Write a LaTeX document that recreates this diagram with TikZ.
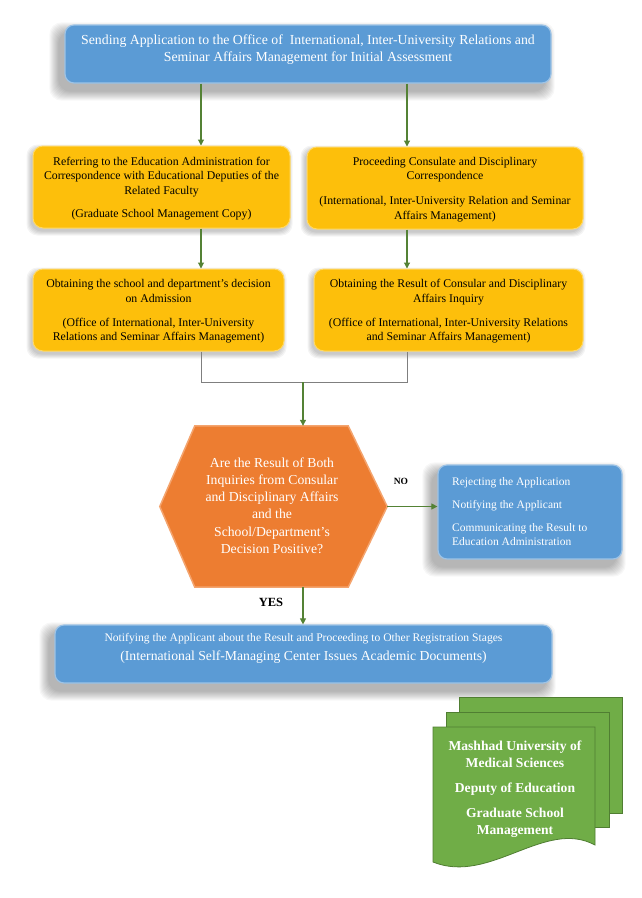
\documentclass[tikz,border=0pt]{standalone}
\usepackage{fontspec}
\setmainfont{Liberation Serif}
\usetikzlibrary{arrows.meta,backgrounds}
\definecolor{cblue}{HTML}{5B9BD5}
\definecolor{cblueL}{HTML}{9DC3E6}
\definecolor{cyel}{HTML}{FDBF0B}
\definecolor{cyelL}{HTML}{FFD966}
\definecolor{corange}{HTML}{ED7D31}
\definecolor{corangeL}{HTML}{F4A46E}
\definecolor{cgreen}{HTML}{70AD47}
\definecolor{cgreenD}{HTML}{507E32}
\definecolor{carrow}{HTML}{548235}
\definecolor{cline}{HTML}{7F7F7F}
\tikzset{
  bbox/.style={rounded corners=9pt, fill=cblue, draw=cblueL, line width=1.2pt, inner sep=0},
  ybox/.style={rounded corners=10pt, fill=cyel, draw=cyelL, line width=1pt, inner sep=0},
  ytext/.style={align=center, inner sep=0, font=\fontsize{11.8}{14.3}\selectfont, text=black},
  wtext/.style={align=center, inner sep=0, text=white},
  arr/.style={draw=carrow, line width=1.1pt, -{Triangle[length=6pt,width=6pt]}},
  joinline/.style={draw=cline, line width=0.9pt},
  page/.style={fill=cgreen, draw=cgreenD, line width=0.8pt},
  shadowfill/.style={fill=black, opacity=0.032, rounded corners=12pt},
  yshadowfill/.style={fill=black, opacity=0.045, rounded corners=11pt},
}
% soft shadow under a named node: offset left and down, grown step by step
\newcommand{\mkshadow}[1]{%
  \foreach \i in {0,...,9}{%
    \path[shadowfill] ([shift={(-6-\i,7-\i)}]#1.north west) rectangle ([shift={(-6+\i,8+\i)}]#1.south east);}}
\newcommand{\mkyshadow}[1]{%
  \foreach \i in {0,...,4}{%
    \path[yshadowfill] ([shift={(-2-\i,3-\i)}]#1.north west) rectangle ([shift={(-2+\i,3+\i)}]#1.south east);}}
\begin{document}
\begin{tikzpicture}[x=1pt,y=-1pt]
\useasboundingbox (0,0) rectangle (641,898);

\coordinate (cL) at (201,0);
\coordinate (cR) at (407,0);
\coordinate (jn) at (303,382);

% top box
\node[bbox, minimum width=486pt, minimum height=58pt] (top) at (308,54) {};
\node[wtext, font=\fontsize{13.8}{17}\selectfont] (toptxt) at (308,49.5)
  {Sending Application to the Office of\ \ International, Inter-University Relations and\\
   Seminar Affairs Management for Initial Assessment};

% yellow boxes
\node[ybox, minimum width=257pt, minimum height=82pt] (L1) at (161.5,187) {};
\node[ytext] (L1t) at (161.5,188.5)
  {Referring to the Education Administration for\\
   Correspondence with Educational Deputies of the\\
   Related Faculty\\[8.5pt]
   (Graduate School Management Copy)};

\node[ybox, minimum width=276pt, minimum height=82pt] (R1) at (445,188) {};
\node[ytext] (R1t) at (445,189.5)
  {Proceeding Consulate and Disciplinary\\
   Correspondence\\[10.5pt]
   (International, Inter-University Relation and Seminar\\
   Affairs Management)};

\node[ybox, minimum width=251pt, minimum height=82pt] (L2) at (158.5,310) {};
\node[ytext] (L2t) at (158.5,311.5)
  {Obtaining the school and department’s decision\\
   on Admission\\[10pt]
   (Office of International, Inter-University\\
   Relations and Seminar Affairs Management)};

\node[ybox, minimum width=269pt, minimum height=82pt] (R2) at (448.5,310) {};
\node[ytext] (R2t) at (448.5,311.5)
  {Obtaining the Result of Consular and Disciplinary\\
   Affairs Inquiry\\[10pt]
   (Office of International, Inter-University Relations\\
   and Seminar Affairs Management)};

% hexagon
\node[minimum width=227pt, minimum height=161pt, inner sep=0] (hex) at (273.5,506.5) {};
\fill[corange, draw=corangeL, line width=1.5pt]
  (hex.west) -- ([xshift=35pt]hex.north west) -- ([xshift=-39pt]hex.north east)
  -- (hex.east) -- ([xshift=-39pt]hex.south east) -- ([xshift=35pt]hex.south west) -- cycle;
\node[wtext, font=\fontsize{13.7}{17.2}\selectfont] (hext) at (272,505.5)
  {Are the Result of Both\\
   Inquiries from Consular\\
   and Disciplinary Affairs\\
   and the\\
   School/Department’s\\
   Decision Positive?};

% NO box
\node[bbox, minimum width=184pt, minimum height=94pt] (nobox) at (530,512) {};
\node[wtext, align=left, anchor=west, font=\fontsize{11.5}{14}\selectfont] (notxt) at (452,512)
  {Rejecting the Application\\[9pt]
   Notifying the Applicant\\[9pt]
   Communicating the Result to\\
   Education Administration};
\node[inner sep=0, font=\fontsize{9.5}{11}\selectfont\bfseries] (nolab) at (401,481) {NO};
\node[inner sep=0, font=\fontsize{12.5}{14}\selectfont\bfseries] (yeslab) at (271,602) {YES};

% bottom box
\node[bbox, minimum width=497pt, minimum height=58pt] (bot) at (303.5,654) {};
\node[wtext, font=\fontsize{11.6}{13}\selectfont] (bt1) at (303.5,639)
  {Notifying the Applicant about the Result and Proceeding to Other Registration Stages};
\node[wtext, font=\fontsize{13.7}{15}\selectfont] (bt2) at (303.5,657)
  {(International Self-Managing Center Issues Academic Documents)};

% shadows and background
\begin{pgfonlayer}{background}
  \fill[white] (0,0) rectangle (641,898);
  \mkshadow{top}
  \mkshadow{nobox}
  \mkshadow{bot}
  \mkyshadow{L1}
  \mkyshadow{R1}
  \mkyshadow{L2}
  \mkyshadow{R2}
\end{pgfonlayer}

% connectors
\draw[arr] (top.south -| cL) -- (L1.north -| cL);
\draw[arr] (top.south -| cR) -- (R1.north -| cR);
\draw[arr] (L1.south -| cL) -- (L2.north -| cL);
\draw[arr] (R1.south -| cR) -- (R2.north -| cR);
\draw[joinline] (L2.south -| cL) -- (cL |- jn) -- (cR |- jn) -- (R2.south -| cR);
\draw[arr] (jn) -- (jn |- hex.north);
\draw[arr] (hex.east) -- (hex.east -| nobox.west);
\draw[arr] (jn |- hex.south) -- (jn |- bot.north);

% green document stack
\draw[page] (459,697) rectangle (622,813);
\draw[page] (446,712) rectangle (609,827);
\draw[page] (433,727) -- (595,727) -- (595,845)
  .. controls (545,818) and (490,885) .. (433,862) -- cycle;
\node[wtext, font=\fontsize{13.6}{17}\selectfont\bfseries] (gtxt) at (515,789)
  {Mashhad University of\\
   Medical Sciences\\[8pt]
   Deputy of Education\\[8pt]
   Graduate School\\
   Management};
\end{tikzpicture}
\end{document}
